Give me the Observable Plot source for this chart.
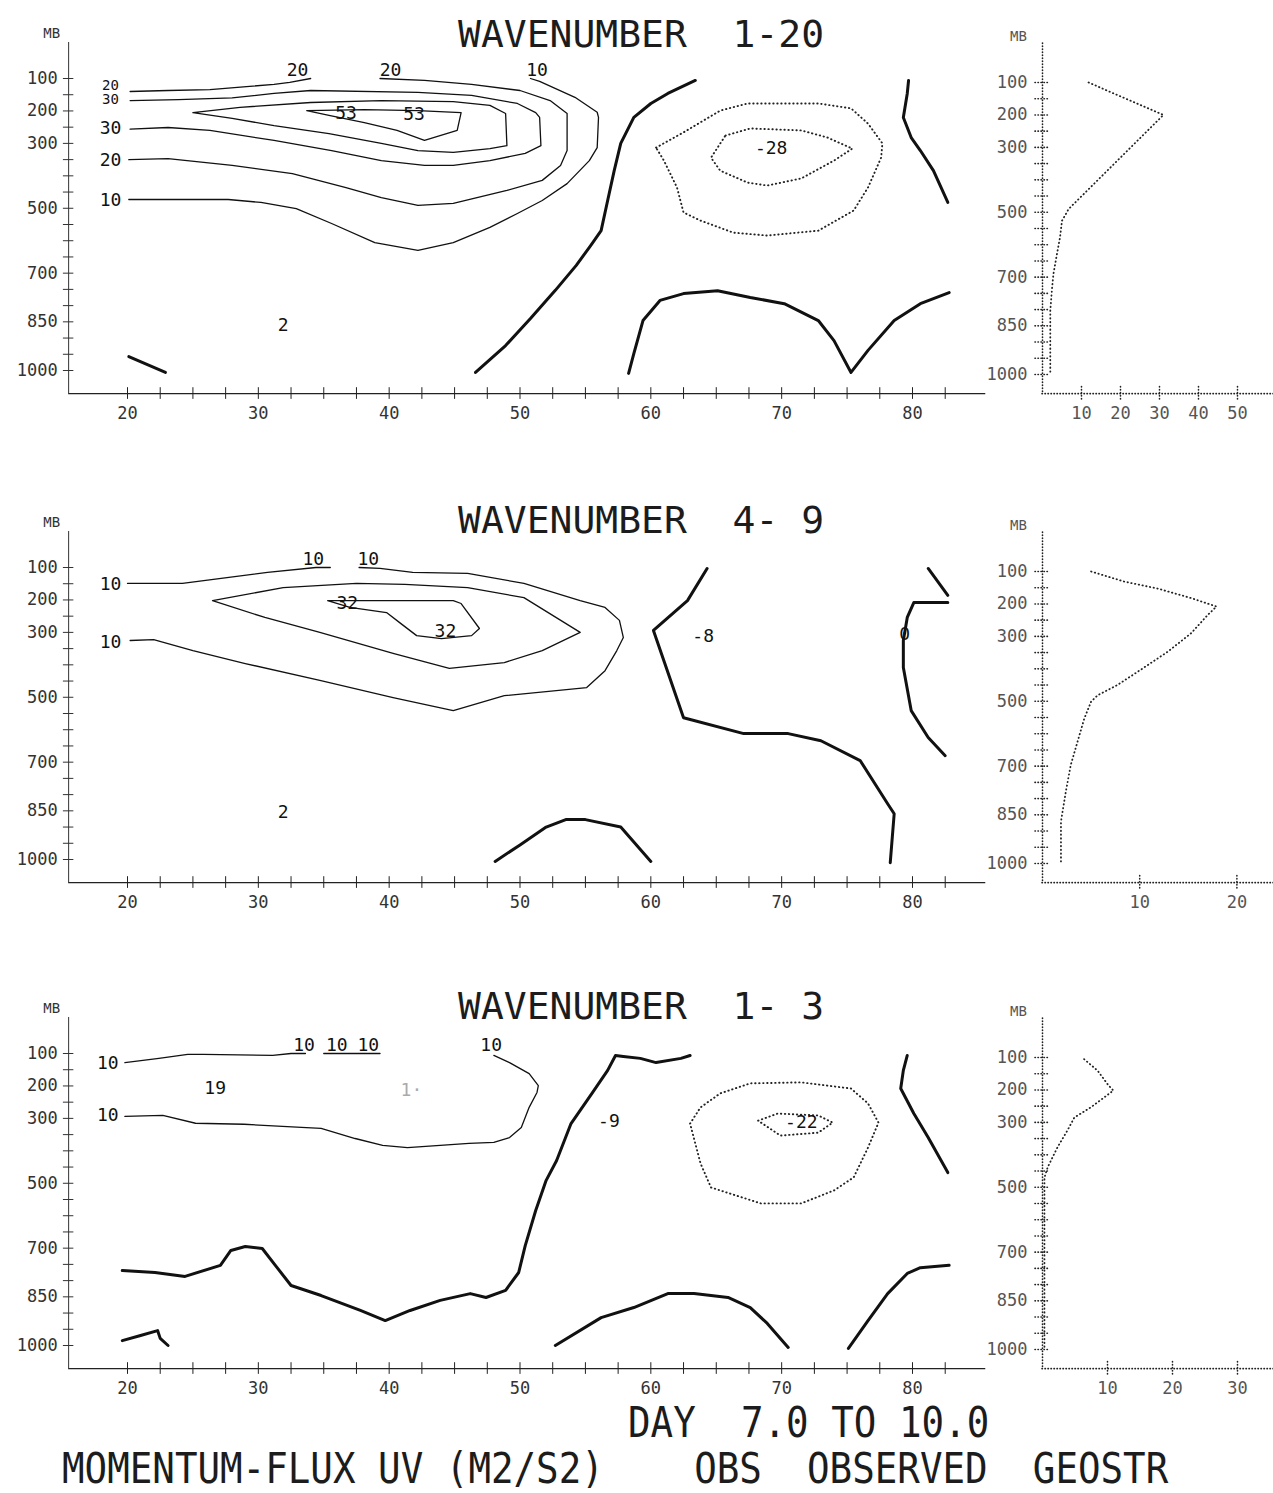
<!DOCTYPE html>
<html><head><meta charset="utf-8">
<script src="https://cdn.jsdelivr.net/npm/d3@7"></script>
<script src="https://cdn.jsdelivr.net/npm/@observablehq/plot@0.6"></script>
<style>
body{margin:0;background:#fff}
#page{position:relative;width:1273px;height:1493px;overflow:hidden;background:#fff;font-family:"DejaVu Sans Mono",monospace;color:#1a1a1a}
.txt{position:absolute;white-space:pre;line-height:0.75;font-family:"DejaVu Sans Mono",monospace;color:#1c1c1c}
</style></head><body><div id="page"></div>
<script>
// ---------- axes ----------
const latTickLabels = [20,30,40,50,60,70,80];
const latTicksMinor = [20,22.5,25,27.5,30,32.5,35,37.5,40,42.5,45,47.5,50,52.5,55,57.5,60,62.5,65,67.5,70,72.5,75,77.5,80,82.5];
const pressureTickLabels = [100,200,300,500,700,850,1000];
const pressureTicksMinor = [100,150,200,250,300,350,400,450,500,550,600,650,700,750,800,850,900,950,1000];
const titles = ["WAVENUMBER  1-20","WAVENUMBER  4- 9","WAVENUMBER  1- 3"];
const footer1 = "DAY  7.0 TO 10.0";
const footer2 = "MOMENTUM-FLUX UV (M2/S2)    OBS  OBSERVED  GEOSTR";

// ---------- panel 1 (wavenumber 1-20): [latitude, pressure] ----------
const p1_c10 = [[50.8,100],[51.5,109],[54.2,158],[55.9,204],[56.0,220],[55.9,313],[55.3,353],[53.6,424],[51.7,476],[49.8,516],[47.7,559],[44.9,606],[42.2,630],[38.9,606],[35.6,547],[32.9,501],[30.2,482],[27.7,473],[20.1,473]];
const p1_c20a = [[20.2,140],[23.1,137],[26.3,134],[29.1,125],[31.2,118],[32.4,112],[34.0,100]];
const p1_c20b = [[39.3,100],[42.7,106],[46.3,118],[50.0,137],[52.3,168],[53.6,208],[53.6,322],[53.1,368],[51.7,414],[49.0,445],[44.9,485],[42.2,491],[39.4,467],[36.7,436],[32.6,393],[28.0,368],[23.1,347],[20.1,350]];
const p1_c30 = [[20.2,168],[23.9,165],[28.0,160],[31.2,146],[34.0,137],[42.2,143],[46.3,152],[49.8,177],[51.2,205],[51.5,220],[51.6,307],[50.4,331],[47.7,353],[44.9,368],[42.7,368],[39.4,353],[35.6,322],[31.2,291],[26.3,260],[23.1,251],[20.2,256]];
const p1_c40 = [[25.0,205],[28.6,189],[34.0,174],[39.4,168],[44.9,171],[47.7,183],[48.9,208],[49.0,307],[47.7,316],[44.9,328],[42.2,322],[39.4,300],[35.4,270],[31.2,245],[28.0,223],[25.0,205]];
const p1_c53 = [[33.7,199],[38.1,196],[42.2,199],[45.5,205],[45.2,260],[42.7,291],[40.6,260],[38.1,236],[35.4,214],[33.7,199]];
const p1_z1 = [[46.6,1006],[48.9,923],[50.8,840],[52.7,753],[54.3,676],[55.4,615],[56.2,569],[56.7,476],[57.2,384],[57.7,300],[58.7,220],[60.0,177],[61.3,146],[63.4,106]];
const p1_z2 = [[79.7,106],[79.6,146],[79.3,220],[79.9,282],[80.6,322],[81.6,384],[82.7,482]];
const p1_z3 = [[58.3,1009],[58.7,948],[59.4,846],[60.7,784],[62.5,763],[65.1,754],[67.6,775],[70.2,794],[72.8,846],[74.0,908],[75.3,1006],[76.6,938],[78.6,846],[80.6,794],[82.8,760]];
const p1_z4 = [[20.1,957],[22.9,1006]];
const p1_n1 = [[60.4,313],[62.5,266],[65.3,199],[67.4,177],[72.8,177],[75.3,192],[76.6,239],[77.7,300],[77.6,344],[76.6,436],[75.5,507],[72.8,569],[68.9,584],[66.3,575],[63.8,538],[62.5,513],[62.0,436],[61.0,353],[60.4,313]];
const p1_n2 = [[65.7,276],[67.6,254],[71.5,260],[73.5,282],[75.4,316],[74.0,353],[71.5,408],[68.9,430],[67.4,421],[65.3,384],[64.6,344],[65.7,276]];
const p1_labels = [[18.7,254,"30"],[18.7,353,"20"],[18.7,476,"10"],[33.0,75,"20"],[40.1,75,"20"],[51.3,75,"10"],[36.7,208,"53"],[41.9,211,"53"],[69.2,316,"-28"],[31.9,861,"2"]];
const p1_stacked = [[18.7,121,"20"],[18.7,166,"30"]];
const prof1 = [[11.8,100],[31.0,200],[6.7,490],[5.0,526],[4.5,577],[3.7,629],[2.8,690],[2.4,741],[2.0,803],[2.0,1000]];
const prof1Ticks = [10,20,30,40,50];

// ---------- panel 2 (wavenumber 4-9) ----------
const p2_c10a = [[20.0,149],[24.2,149],[27.6,131],[30.7,115],[34.4,100],[35.5,100]];
const p2_c10b = [[37.7,100],[39.3,103],[41.8,115],[46.0,118],[50.3,149],[54.6,202],[56.5,223],[57.6,263],[57.9,316],[57.4,356],[56.5,418],[55.1,470],[48.8,495],[44.9,541],[40.3,501],[34.7,448],[29.0,396],[25.0,356],[22.0,322],[20.2,325]];
const p2_c20 = [[26.5,202],[31.9,162],[37.5,149],[41.2,152],[46.0,162],[50.3,193],[54.6,300],[51.7,356],[48.8,393],[44.6,411],[40.3,365],[34.7,300],[30.5,254],[26.5,202]];
const p2_c32 = [[35.3,202],[44.9,202],[45.5,211],[46.9,288],[46.3,310],[44.0,319],[42.1,310],[40.9,273],[39.8,239],[37.0,223],[35.3,202]];
const p2_z1 = [[64.3,103],[62.8,202],[60.2,294],[62.5,563],[67.1,612],[70.5,612],[73.0,634],[76.0,695],[78.1,828],[78.6,859],[78.3,1010]];
const p2_z2 = [[81.2,103],[82.7,186]];
const p2_z3 = [[82.7,208],[80.1,208],[79.6,254],[79.3,325],[79.3,408],[79.9,541],[81.2,624],[82.5,680]];
const p2_z4 = [[48.1,1006],[50.0,955],[52.0,900],[53.5,877],[55.0,877],[57.7,900],[60.0,1006]];
const p2_labels = [[18.7,152,"10"],[18.7,331,"10"],[34.2,75,"10"],[38.4,75,"10"],[36.8,211,"32"],[44.3,297,"32"],[64.0,313,"-8"],[79.4,307,"0"],[31.9,855,"2"]];
const prof2 = [[5.0,100],[8.4,131],[11.9,153],[15.3,182],[17.9,208],[17.0,234],[15.3,290],[12.9,347],[10.1,403],[7.7,450],[5.7,481],[5.0,501],[4.3,553],[3.6,625],[2.9,697],[2.4,779],[1.9,871],[1.9,1000]];
const prof2Ticks = [10,20];

// ---------- panel 3 (wavenumber 1-3) ----------
const p3_c10a = [[19.8,128],[22.4,115],[24.6,103],[25.8,103],[31.1,106],[32.5,100],[33.6,100]];
const p3_c10b = [[35.0,100],[39.3,100]];
const p3_c10c = [[48.0,106],[49.2,128],[50.7,162],[51.4,199],[51.3,220],[50.7,266],[50.1,328],[49.2,359],[48.0,374],[46.1,377],[43.9,383],[41.4,390],[39.5,383],[37.4,362],[34.8,331],[33.3,328],[28.9,318],[25.2,315],[22.7,291],[19.8,294]];
const p3_z1 = [[19.6,769],[22.1,775],[24.4,787],[27.1,753],[27.9,707],[29.0,695],[30.3,701],[31.3,753],[32.5,815],[34.8,846],[37.8,892],[39.7,923],[41.6,892],[43.9,861],[46.2,840],[47.4,852],[48.9,830],[49.9,775],[50.4,692],[51.2,584],[52.0,491],[52.8,430],[53.9,316],[55.5,223],[56.7,152],[57.3,106],[57.9,109],[59.2,115],[60.4,128],[62.3,115],[63.0,106]];
const p3_z2 = [[19.6,985],[21.0,969],[22.3,954],[22.5,978],[23.1,1000]];
const p3_z3 = [[52.7,1000],[56.2,914],[58.7,883],[61.3,840],[63.3,840],[65.9,852],[67.6,883],[68.9,932],[70.5,1006]];
const p3_z4 = [[75.1,1009],[76.6,923],[78.1,840],[79.6,778],[80.6,760],[82.8,753]];
const p3_z5 = [[79.6,106],[79.3,152],[79.1,208],[80.1,285],[81.2,359],[82.7,467]];
const p3_n1 = [[63.0,316],[63.8,266],[65.3,223],[67.6,192],[71.5,189],[75.3,208],[76.6,254],[77.4,313],[76.6,390],[75.5,482],[74.0,522],[71.5,562],[68.4,562],[64.6,513],[63.8,439],[63.0,316]];
const p3_n2 = [[68.2,307],[69.7,285],[72.8,291],[73.9,313],[72.8,344],[69.9,353],[68.2,307]];
const p3_labels = [[18.5,131,"10"],[18.5,291,"10"],[26.7,208,"19"],[47.8,75,"10"],[33.5,75,"10"],[36.0,75,"10"],[38.4,75,"10"],[56.8,310,"-9"],[71.5,313,"-22"]];
const p3_faint = [[41.7,214,"1·"]];
const prof3 = [[6.4,105],[8.5,141],[10.0,182],[10.9,202],[9.5,223],[7.4,254],[4.9,285],[3.8,326],[2.3,377],[0.8,438],[0.3,470],[0.3,1000]];
const prof3Ticks = [10,20,30];

// ---------- drawing ----------
const FONT = "DejaVu Sans Mono, monospace";
function mainPanel(lines, zeros, negs, labels, faint, small) {
  const X0 = 15.5, X1 = 85.6, Ytop = -11, Ybot = 1071;
  return Plot.plot({
    width: 990, height: 430, margin: 0,
    x: {domain: [20, 80], range: [127, 912], axis: null},
    y: {domain: [100, 1000], range: [78, 370], axis: null},
    style: {fontFamily: FONT, background: "transparent", overflow: "visible"},
    marks: [
      Plot.ruleX([X0], {x: d => d, y1: Ytop, y2: Ybot, stroke: "#333", strokeWidth: 1}),
      Plot.ruleY([Ybot], {y: d => d, x1: X0, x2: X1, stroke: "#222", strokeWidth: 1.3}),
      Plot.ruleY(pressureTicksMinor, {y: d => d, x1: X0 - 0.4, x2: X0 + 0.4, stroke: "#333", strokeWidth: 1}),
      Plot.ruleX(latTicksMinor, {x: d => d, y1: Ybot - 18, y2: Ybot + 18, stroke: "#222", strokeWidth: 1}),
      Plot.text(latTickLabels, {x: d => d, y: Ybot, dy: 20, text: d => String(d), fontSize: 17, fill: "#333"}),
      Plot.text(pressureTickLabels, {x: X0, y: d => d, dx: -11, textAnchor: "end", text: d => String(d), fontSize: 17, fill: "#333"}),
      Plot.text(["MB"], {x: X0, y: Ytop, dx: -17, dy: -9, text: d => d, fontSize: 14, fill: "#333"}),
      ...lines.map(l => Plot.line(l, {stroke: "#111", strokeWidth: 1.3})),
      ...zeros.map(l => Plot.line(l, {stroke: "#111", strokeWidth: 3, strokeLinejoin: "round"})),
      ...negs.map(l => Plot.line(l, {stroke: "#222", strokeWidth: 1.9, strokeDasharray: "0.4 3.6", strokeLinecap: "round"})),
      Plot.text(labels, {x: d => d[0], y: d => d[1], text: d => d[2], fontSize: 18, fill: "#111"}),
      Plot.text(small, {x: d => d[0], y: d => d[1], text: d => d[2], fontSize: 14, fill: "#111"}),
      Plot.text(faint, {x: d => d[0], y: d => d[1], text: d => d[2], fontSize: 18, fill: "#aaa"})
    ]
  });
}
function sidePanel(profile, xTicks, ppu) {
  const xmax = 231 / ppu, Ytop = -20, Ybot = 1059;
  const dotted = {stroke: "#222", strokeWidth: 1.6, strokeDasharray: "0.4 2.6", strokeLinecap: "round"};
  return Plot.plot({
    width: 283, height: 430, margin: 0,
    x: {domain: [0, 10], range: [52, 52 + 10 * ppu], axis: null},
    y: {domain: [100, 1000], range: [82, 374], axis: null},
    style: {fontFamily: FONT, background: "transparent", overflow: "visible"},
    marks: [
      Plot.ruleX([0], {x: d => d, y1: Ytop, y2: Ybot, ...dotted}),
      Plot.ruleY([Ybot], {y: d => d, x1: 0, x2: xmax, ...dotted}),
      Plot.ruleY(pressureTicksMinor, {y: d => d, x1: -7 / ppu, x2: 7 / ppu, ...dotted}),
      Plot.ruleX(xTicks, {x: d => d, y1: Ybot - 20, y2: Ybot + 20, ...dotted}),
      Plot.text(pressureTickLabels, {x: 0, y: d => d, dx: -15, textAnchor: "end", text: d => String(d), fontSize: 17, fill: "#555"}),
      Plot.text(xTicks, {x: d => d, y: Ybot, dy: 20, text: d => String(d), fontSize: 17, fill: "#555"}),
      Plot.text(["MB"], {x: 0, y: Ytop, dx: -24, dy: -7, text: d => d, fontSize: 14, fill: "#555"}),
      Plot.line(profile, {stroke: "#222", strokeWidth: 1.8, strokeDasharray: "0.4 3.4", strokeLinecap: "round"})
    ]
  });
}

const page = document.getElementById("page");
function place(el, left, top) {
  el.style.position = "absolute"; el.style.left = left + "px"; el.style.top = top + "px";
  page.appendChild(el);
}
function addText(str, left, top, size, scaleY) {
  const d = document.createElement("div");
  d.className = "txt"; d.textContent = str;
  d.style.left = left + "px"; d.style.top = top + "px"; d.style.fontSize = size + "px";
  if (scaleY) { d.style.transform = "scaleY(" + scaleY + ")"; d.style.transformOrigin = "0 0"; }
  page.appendChild(d);
}

const panelTops = [0, 489, 975];
const titleTops = [20, 506, 992];
place(mainPanel([p1_c10, p1_c20a, p1_c20b, p1_c30, p1_c40, p1_c53], [p1_z1, p1_z2, p1_z3, p1_z4], [p1_n1, p1_n2], p1_labels, [], p1_stacked), 0, panelTops[0]);
place(sidePanel(prof1, prof1Ticks, 3.9), 990, panelTops[0]);
place(mainPanel([p2_c10a, p2_c10b, p2_c20, p2_c32], [p2_z1, p2_z2, p2_z3, p2_z4], [], p2_labels, [], []), 0, panelTops[1]);
place(sidePanel(prof2, prof2Ticks, 9.72), 990, panelTops[1]);
place(mainPanel([p3_c10a, p3_c10b, p3_c10c], [p3_z1, p3_z2, p3_z3, p3_z4, p3_z5], [p3_n1, p3_n2], p3_labels, p3_faint, []), 0, panelTops[2]);
place(sidePanel(prof3, prof3Ticks, 6.5), 990, panelTops[2]);

titles.forEach((t, i) => addText(t, 458, titleTops[i], 38));
addText(footer1, 628, 1406, 37.5, 1.15);
addText(footer2, 62, 1452, 37.5, 1.15);
</script></body></html>
